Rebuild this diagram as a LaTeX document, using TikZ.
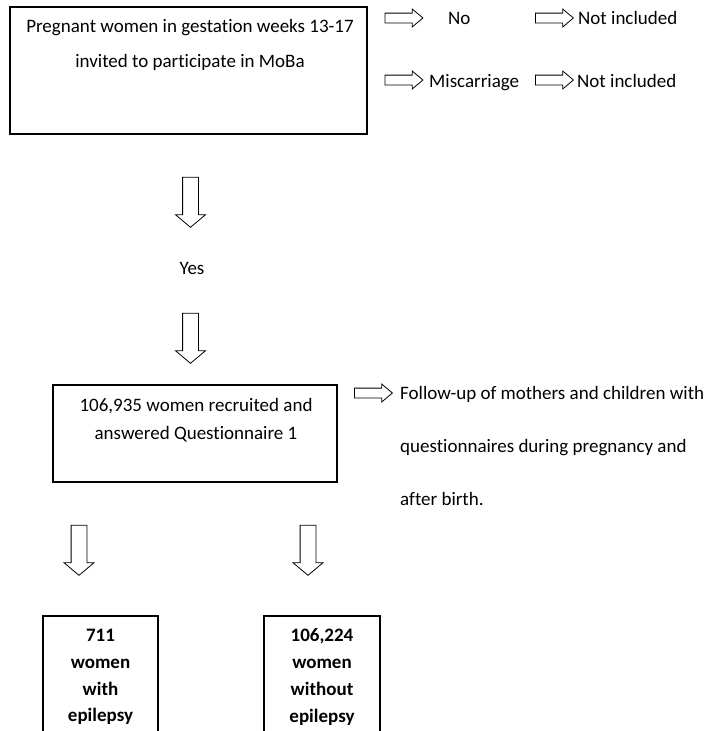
\documentclass[tikz,border=0pt]{standalone}
\usepackage{fontspec}
\setmainfont{Carlito}[Ligatures=NoCommon]
\usetikzlibrary{shapes.arrows}

\begin{document}
\begin{tikzpicture}[x=1pt,y=-1pt,
  box/.style={draw,line width=1.3pt,inner sep=0pt},
  txt/.style={inner sep=0pt,font=\fontsize{19}{23}\selectfont},
  harrow/.style={single arrow,draw,line width=0.8pt,inner sep=4.5pt,
    single arrow head extend=4pt,single arrow head indent=0pt,
    single arrow tip angle=80,minimum height=38pt},
  varrow/.style={single arrow,draw,line width=0.8pt,inner sep=7.5pt,
    single arrow head extend=7pt,single arrow head indent=0pt,
    single arrow tip angle=100,minimum height=50pt,shape border rotate=270}]
  \useasboundingbox (0,0) rectangle (708,731);
  \clip (0,0) rectangle (708,731);

  % invitation
  \node[box,minimum width=357pt,minimum height=127pt] (invite) at (188.5,70.5) {};
  \node[txt,align=center,font=\fontsize{19}{35}\selectfont] (invitetxt) at (190,44.5)
    {Pregnant women in gestation weeks 13-17\\invited to participate in MoBa};

  \node[harrow] (arrowno) at (401,18) {};
  \node[txt,anchor=base west] (no) at (448,24) {No};
  \node[harrow] (arrowno2) at (551.5,18) {};
  \node[txt,anchor=base west] (notinc1) at (578,24) {Not included};

  \node[harrow] (arrowmis) at (401,80) {};
  \node[txt,anchor=base west] (mis) at (429,87) {Miscarriage};
  \node[harrow] (arrowmis2) at (551.5,80) {};
  \node[txt,anchor=base west] (notinc2) at (577,87) {Not included};

  \node[varrow] (arrowyes) at (190.5,199) {};
  \node[txt,anchor=base] (yes) at (192,274) {Yes};
  \node[varrow] (arrowrec) at (190.5,335) {};

  % recruited
  \node[box,minimum width=284pt,minimum height=97pt] (recruited) at (195,433.5) {};
  \node[txt,align=center,font=\fontsize{19}{28}\selectfont] (recruitedtxt) at (196,420)
    {106,935 women recruited and\\answered Questionnaire 1};

  \node[harrow] (arrowfollow) at (370.5,393) {};
  \node[txt,anchor=west,align=left,font=\fontsize{19}{53}\selectfont] (follow) at (400,446)
    {Follow-up of mothers and children with\\questionnaires during pregnancy and\\after birth.};

  \node[varrow] (arrowepi) at (79,547) {};
  \node[varrow] (arrownoepi) at (308,547) {};

  % groups
  \node[box,minimum width=115pt,minimum height=130pt] (epi) at (100.5,681) {};
  \node[txt,align=center,font=\bfseries\fontsize{19}{26.7}\selectfont] (epitxt) at (100.5,677)
    {711\\women\\with\\epilepsy};
  \node[box,minimum width=116pt,minimum height=130pt] (noepi) at (322,681) {};
  \node[txt,align=center,font=\bfseries\fontsize{19}{26.7}\selectfont] (noepitxt) at (322,677)
    {106,224\\women\\without\\epilepsy};
\end{tikzpicture}
\end{document}
